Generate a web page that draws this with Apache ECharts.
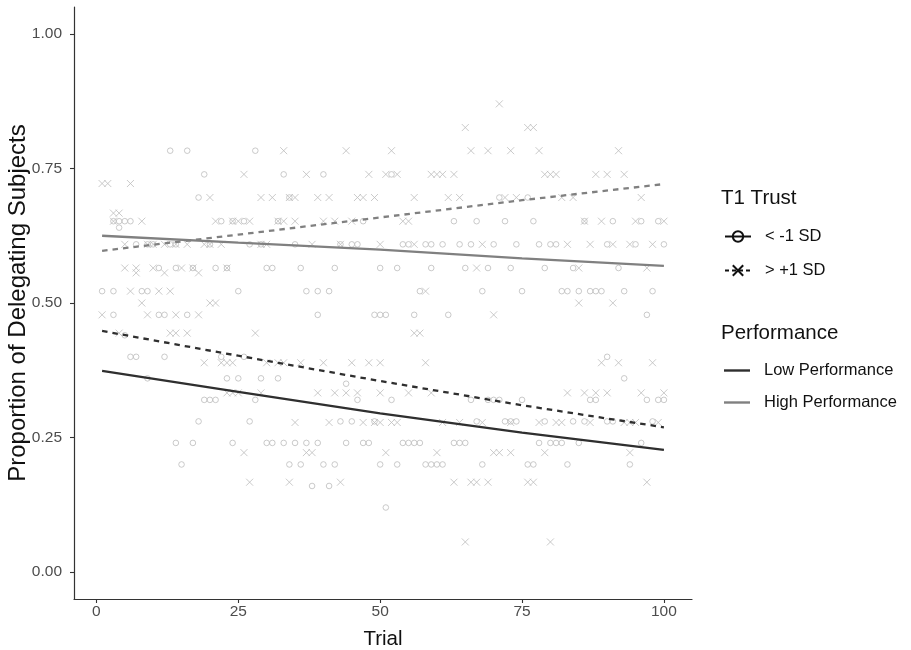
<!DOCTYPE html>
<html>
<head>
<meta charset="utf-8">
<title>Proportion of Delegating Subjects by Trial</title>
<script src="https://cdn.jsdelivr.net/npm/echarts@6/dist/echarts.min.js"></script>
<style>
  html, body { margin: 0; padding: 0; background: #ffffff; }
  #chart { width: 911px; height: 650px; }
</style>
</head>
<body>
<div id="chart"></div>
<script>
// Observed proportions, grouped as [proportion, [trials...]] rows.
// Circles: T1 trust < -1 SD; crosses: T1 trust > +1 SD.
const lowTrustHighPerf = [
  [0.783, [13, 16, 28]],
  [0.739, [19, 33, 40, 52]],
  [0.696, [18, 34, 71, 76]],
  [0.652, [3, 4, 5, 6, 22, 24, 26, 32, 47, 63, 67, 72, 77, 86, 91, 96, 99]],
  [0.609, [7, 9, 10, 13, 14, 20, 27, 29, 35, 43, 45, 46, 54, 55, 58, 59, 61, 64, 66, 70, 74, 78, 80, 81, 90, 95, 100]],
  [0.565, [11, 14, 17, 21, 23, 30, 31, 36, 42, 50, 53, 59, 65, 69, 73, 79, 84, 92]],
  [0.522, [1, 3, 8, 9, 25, 37, 39, 41, 57, 68, 75, 82, 83, 85, 87, 88, 89, 93, 98]],
  [0.478, [3, 11, 12, 16, 39, 49, 50, 51, 56, 62, 97]]
];

const lowTrustLowPerf = [
  [0.64, [4]],
  [0.44, [5]],
  [0.40, [6, 7, 12, 22, 26, 90]],
  [0.36, [9, 23, 25, 29, 32, 93]],
  [0.35, [44]],
  [0.32, [19, 20, 21, 28, 46, 52, 66, 69, 70, 71, 75, 87, 88, 97, 99, 100]],
  [0.28, [18, 27, 43, 45, 49, 67, 72, 73, 74, 79, 84, 86, 90, 91, 98]],
  [0.24, [14, 17, 24, 30, 31, 33, 35, 37, 39, 44, 47, 48, 54, 55, 56, 57, 63, 64, 65, 78, 80, 81, 82, 85, 96]],
  [0.20, [15, 34, 36, 40, 42, 50, 53, 58, 59, 60, 61, 68, 76, 77, 83, 94]],
  [0.16, [38, 41]],
  [0.12, [51]]
];

const highTrustHighPerf = [
  [0.870, [71]],
  [0.826, [65, 76, 77]],
  [0.783, [33, 44, 52, 66, 69, 73, 78, 92]],
  [0.739, [26, 37, 48, 51, 53, 59, 60, 61, 63, 79, 80, 81, 88, 90, 93]],
  [0.696, [20, 29, 31, 34, 35, 39, 41, 46, 47, 49, 56, 62, 64, 72, 74, 82, 84, 96]],
  [0.652, [3, 8, 21, 24, 25, 27, 32, 33, 35, 40, 42, 45, 54, 55, 86, 89, 95, 100]],
  [0.609, [5, 9, 10, 12, 14, 16, 19, 20, 22, 29, 30, 38, 43, 50, 56, 68, 83, 87, 91, 94, 98]],
  [0.565, [5, 7, 10, 15, 17, 23, 67, 85, 97]],
  [0.522, [6, 11, 13, 58]],
  [0.478, [1, 9, 14, 18, 70]]
];

const highTrustLowPerf = [
  [0.722, [1, 2, 6]],
  [0.667, [3, 4]],
  [0.556, [7, 12, 18]],
  [0.500, [8, 20, 21, 85, 91]],
  [0.444, [4, 13, 14, 16, 28, 56, 57]],
  [0.389, [19, 22, 23, 24, 30, 32, 33, 36, 40, 45, 48, 50, 58, 89, 92, 98]],
  [0.333, [23, 24, 25, 29, 39, 42, 44, 46, 50, 55, 59, 83, 86, 88, 90, 96, 100]],
  [0.278, [35, 41, 47, 49, 50, 52, 53, 61, 64, 68, 73, 78, 81, 82, 87, 93, 94, 95, 99]],
  [0.222, [26, 37, 38, 51, 60, 70, 71, 73, 79, 94]],
  [0.167, [27, 34, 43, 63, 66, 67, 69, 76, 77, 97]],
  [0.056, [65, 80]]
];

// Fitted trends, sampled along the trial range.
const fitTrials = [1, 25, 50, 75, 100];
const fitLowPerfLowTrust = [0.374, 0.335, 0.295, 0.259, 0.227];
const fitLowPerfHighTrust = [0.448, 0.402, 0.355, 0.310, 0.269];
const fitHighPerfLowTrust = [0.625, 0.612, 0.599, 0.583, 0.569];
const fitHighPerfHighTrust = [0.597, 0.627, 0.659, 0.691, 0.721];

const xTicks = [0, 25, 50, 75, 100];
const yTicks = [0, 0.25, 0.5, 0.75, 1];

const FONT = '"Liberation Sans", Arial, sans-serif';
const POINT_GREY = '#bdbdbd';
const DARK = '#2f2f2f';
const MID = '#808080';
const CROSS = 'path://M0,0L10,10M10,0L0,10';
const DASH = [5.5, 5];

function expand(rows) {
  const out = [];
  rows.forEach(([v, trials]) => trials.forEach(t => out.push([t, v])));
  return out;
}
function pairs(ys) {
  return fitTrials.map((t, i) => [t, ys[i]]);
}

function pointSeries(rows, isCross) {
  return {
    type: 'scatter',
    silent: true,
    data: expand(rows),
    symbol: isCross ? CROSS : 'circle',
    symbolSize: isCross ? 7 : 5.6,
    itemStyle: { color: 'rgba(0,0,0,0)', borderColor: POINT_GREY, borderWidth: 1 },
    z: 1
  };
}
function fitSeries(ys, color, dashed) {
  return {
    type: 'line',
    silent: true,
    data: pairs(ys),
    symbol: 'none',
    lineStyle: { color: color, width: 2.3, type: dashed ? DASH : 'solid' },
    z: 3
  };
}
// Legend-only entries (no data).
function shapeKey(name, dashed, symbol) {
  return {
    type: 'line',
    name: name,
    data: [],
    symbol: symbol,
    itemStyle: { color: 'rgba(0,0,0,0)', borderColor: '#111', borderWidth: 1.3 },
    lineStyle: { color: '#111', width: 2.3, type: dashed ? [4, 3] : 'solid' }
  };
}
function colourKey(name, color) {
  return {
    type: 'line',
    name: name,
    data: [],
    symbol: 'none',
    itemStyle: { color: color, borderWidth: 0 },
    lineStyle: { color: color, width: 2.3 }
  };
}

const chart = echarts.init(document.getElementById('chart'), null, { renderer: 'canvas' });

const legendText = { fontFamily: FONT, fontSize: 16.5, color: '#111', padding: [0, 0, 0, 9] };
const legendTitle = { fontFamily: FONT, fontSize: 20.5, fontWeight: 'normal', color: '#111' };

chart.setOption({
  backgroundColor: '#ffffff',
  animation: false,
  textStyle: { fontFamily: FONT },
  title: [
    { text: 'T1 Trust', left: 721, top: 188, padding: 0, textStyle: legendTitle },
    { text: 'Performance', left: 721, top: 323, padding: 0, textStyle: legendTitle }
  ],
  legend: [
    {
      data: ['< -1 SD', '> +1 SD'],
      orient: 'vertical', left: 724, top: 228, padding: 0,
      itemWidth: 26, itemHeight: 13, itemGap: 17,
      selectedMode: false,
      textStyle: legendText
    },
    {
      data: [
        { name: 'Low Performance', icon: 'rect' },
        { name: 'High Performance', icon: 'rect' }
      ],
      orient: 'vertical', left: 724, top: 362, padding: 0,
      itemWidth: 26, itemHeight: 2.4, itemGap: 15,
      selectedMode: false,
      textStyle: legendText
    }
  ],
  grid: { left: 74, top: 7, right: 219, bottom: 51, containLabel: false, outerBoundsMode: 'none' },
  xAxis: {
    type: 'value',
    min: -3.95, max: 104.95,
    name: 'Trial', nameLocation: 'middle', nameGap: 30,
    nameTextStyle: { fontFamily: FONT, fontSize: 20.5, color: '#111' },
    axisLine: { show: true, onZero: false, lineStyle: { color: '#333', width: 1.2 } },
    axisTick: { show: true, length: 4, customValues: xTicks, lineStyle: { color: '#333', width: 1.1 } },
    axisLabel: { customValues: xTicks, margin: 5, fontSize: 15.5, color: '#4d4d4d', fontFamily: FONT },
    splitLine: { show: false }
  },
  yAxis: {
    type: 'value',
    min: -0.05, max: 1.05,
    name: 'Proportion of Delegating Subjects', nameLocation: 'middle', nameGap: 44,
    nameMoveOverlap: false,
    nameTextStyle: { fontFamily: FONT, fontSize: 24, color: '#111' },
    axisLine: { show: true, onZero: false, lineStyle: { color: '#333', width: 1.2 } },
    axisTick: { show: true, length: 4, customValues: yTicks, lineStyle: { color: '#333', width: 1.1 } },
    axisLabel: { customValues: yTicks, margin: 12, fontSize: 15.5, color: '#4d4d4d', fontFamily: FONT,
      formatter: v => v.toFixed(2) },
    splitLine: { show: false }
  },
  series: [
    pointSeries(lowTrustHighPerf, false),
    pointSeries(lowTrustLowPerf, false),
    pointSeries(highTrustHighPerf, true),
    pointSeries(highTrustLowPerf, true),
    fitSeries(fitLowPerfLowTrust, DARK, false),
    fitSeries(fitLowPerfHighTrust, DARK, true),
    fitSeries(fitHighPerfLowTrust, MID, false),
    fitSeries(fitHighPerfHighTrust, MID, true),
    shapeKey('< -1 SD', false, 'circle'),
    shapeKey('> +1 SD', true, CROSS),
    colourKey('Low Performance', DARK),
    colourKey('High Performance', MID)
  ]
});
</script>
</body>
</html>
